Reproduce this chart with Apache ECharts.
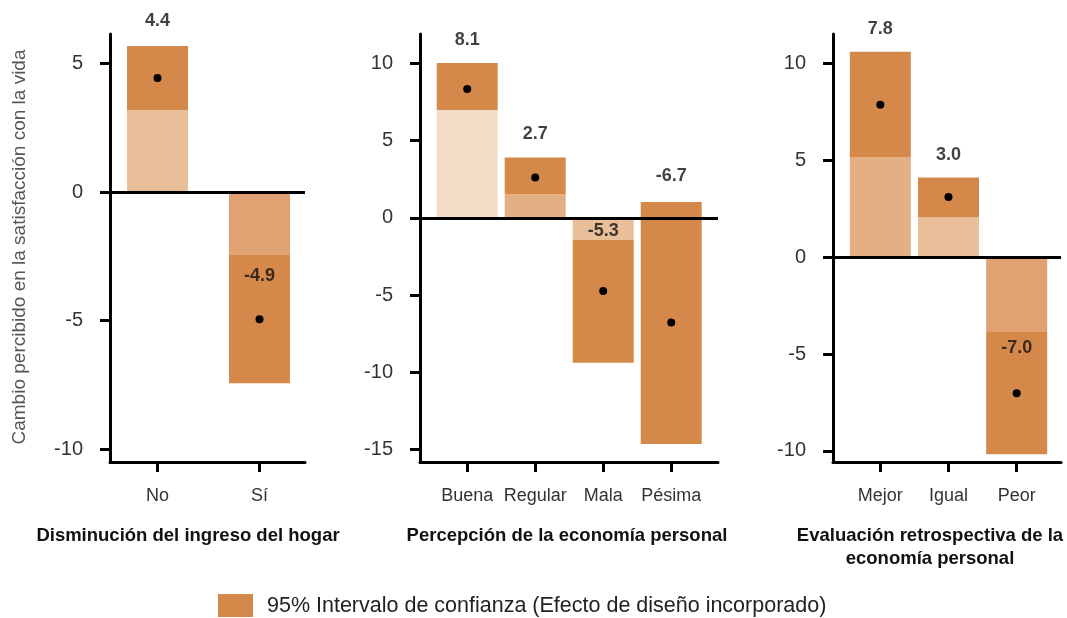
<!DOCTYPE html>
<html>
<head>
<meta charset="utf-8">
<script src="https://cdn.jsdelivr.net/npm/echarts@6/dist/echarts.min.js"></script>
<style>html,body{margin:0;padding:0;background:#fff}#c{width:1067px;height:618px}</style>
</head>
<body>
<div id="c"></div>
<script>
// ---- Data ----
const categories1 = ['No', 'Sí'];
const estimate1 = [4.43, -4.94];
const labelText1 = ['4.4', '-4.9'];
const labelY1 = [6.65, -3.26];
const ciLow1 = [3.19, -7.43];
const ciHigh1 = [5.67, -2.45];
const lightEnd1 = [3.19, -2.45];
const lightColor1 = ['#E8BF99', '#E0A272'];
const yTicks1 = [5, 0, -5, -10];

const categories2 = ['Buena', 'Regular', 'Mala', 'Pésima'];
const estimate2 = [8.34, 2.62, -4.73, -6.77];
const labelText2 = ['8.1', '2.7', '-5.3', '-6.7'];
const labelY2 = [11.51, 5.42, -0.84, 2.72];
const ciLow2 = [6.98, 1.53, -9.37, -14.64];
const ciHigh2 = [10.02, 3.91, -1.44, 1.02];
const lightEnd2 = [6.98, 1.53, -1.44, null];
const lightColor2 = ['#F2DCC8', '#E4AF83', '#E8BF99', null];
const yTicks2 = [10, 5, 0, -5, -10, -15];

const categories3 = ['Mejor', 'Igual', 'Peor'];
const estimate3 = [7.86, 3.10, -7.02];
const labelText3 = ['7.8', '3.0', '-7.0'];
const labelY3 = [11.77, 5.28, -4.70];
const ciLow3 = [5.16, 2.07, -10.17];
const ciHigh3 = [10.6, 4.11, -3.86];
const lightEnd3 = [5.16, 2.07, -3.86];
const lightColor3 = ['#E3AF83', '#E8BF99', '#E0A272'];
const yTicks3 = [10, 5, 0, -5, -10];

const panelTitles = [
  'Disminución del ingreso del hogar',
  'Percepción de la economía personal',
  'Evaluación retrospectiva de la\neconomía personal'
];
const yAxisTitle = 'Cambio percibido en la satisfacción con la vida';
const legendText = '95% Intervalo de confianza (Efecto de diseño incorporado)';

// ---- Styling / layout ----
const DARK = '#D4894A';
const FONT = '"Liberation Sans", Arial, sans-serif';
const BAR_W = 61;
const panels = [
  {cats: categories1, est: estimate1, lt: labelText1, ly: labelY1, lo: ciLow1, hi: ciHigh1, le: lightEnd1, lc: lightColor1, ticks: yTicks1,
   grid: {left: 110, top: 34, width: 195, height: 428}, xMin: -0.466, xMax: 1.446, yMin: -10.49, yMax: 6.14},
  {cats: categories2, est: estimate2, lt: labelText2, ly: labelY2, lo: ciLow2, hi: ciHigh2, le: lightEnd2, lc: lightColor2, ticks: yTicks2,
   grid: {left: 420, top: 34, width: 298, height: 428}, xMin: -0.694, xMax: 3.688, yMin: -15.8, yMax: 11.9},
  {cats: categories3, est: estimate3, lt: labelText3, ly: labelY3, lo: ciLow3, hi: ciHigh3, le: lightEnd3, lc: lightColor3, ticks: yTicks3,
   grid: {left: 833, top: 34, width: 228, height: 428}, xMin: -0.694, xMax: 2.65, yMin: -10.57, yMax: 11.51}
];

function renderBar(params, api) {
  const x = api.value(0), a = api.value(1), b = api.value(2);
  const p1 = api.coord([x, Math.max(a, b)]);
  const p2 = api.coord([x, Math.min(a, b)]);
  return {
    type: 'rect',
    shape: {x: p1[0] - BAR_W / 2, y: p1[1], width: BAR_W, height: p2[1] - p1[1]},
    style: {fill: api.visual('color')}
  };
}

const grids = [], xAxes = [], yAxes = [], series = [];
panels.forEach((p, i) => {
  grids.push(Object.assign({containLabel: false}, p.grid));
  const idx = p.cats.map((_, k) => k);
  xAxes.push({
    type: 'value', gridIndex: i, min: p.xMin, max: p.xMax,
    splitLine: {show: false},
    axisLine: {show: true, onZero: false, lineStyle: {color: '#000', width: 3}},
    axisTick: {show: true, customValues: idx, length: 10, lineStyle: {color: '#000', width: 3}},
    axisLabel: {show: true, customValues: idx, margin: 25, fontSize: 18, fontFamily: FONT, color: '#333',
      formatter: v => p.cats[Math.round(v)] || ''}
  });
  yAxes.push({
    type: 'value', gridIndex: i, min: p.yMin, max: p.yMax,
    splitLine: {show: false},
    axisLine: {show: true, onZero: false, lineStyle: {color: '#000', width: 3}},
    axisTick: {show: true, customValues: p.ticks, length: 10, lineStyle: {color: '#000', width: 3}},
    axisLabel: {show: true, customValues: p.ticks, margin: 27, fontSize: 20, fontFamily: FONT, color: '#333'}
  });
  const lightData = [];
  p.cats.forEach((_, k) => {
    if (p.le[k] !== null) lightData.push({value: [k, 0, p.le[k]], itemStyle: {color: p.lc[k]}});
  });
  series.push({
    type: 'custom', xAxisIndex: i, yAxisIndex: i, renderItem: renderBar, clip: false, z: 2,
    encode: {x: 0, y: [1, 2]}, data: lightData, silent: true
  });
  series.push({
    type: 'custom', xAxisIndex: i, yAxisIndex: i, renderItem: renderBar, clip: false, z: 3,
    encode: {x: 0, y: [1, 2]}, itemStyle: {color: DARK}, silent: true,
    data: p.cats.map((_, k) => [k, p.lo[k], p.hi[k]]),
    markLine: {silent: true, symbol: 'none', label: {show: false},
      lineStyle: {color: '#000', width: 3, type: 'solid'}, data: [{yAxis: 0}], z: 5}
  });
  series.push({
    type: 'scatter', xAxisIndex: i, yAxisIndex: i, z: 6, symbolSize: 8, clip: false,
    itemStyle: {color: '#000', opacity: 1}, silent: true,
    data: p.cats.map((_, k) => [k, p.est[k]])
  });
  series.push({
    type: 'scatter', xAxisIndex: i, yAxisIndex: i, z: 7, symbolSize: 0, clip: false, silent: true,
    label: {show: true, position: 'inside', fontSize: 18, fontWeight: 'bold', fontFamily: FONT, color: '#111',
      formatter: q => p.lt[q.dataIndex]},
    data: p.cats.map((_, k) => [k, p.ly[k]])
  });
});

const titleStyle = {fontSize: 18.5, fontWeight: 'bold', fontFamily: FONT, fill: '#111', align: 'center', verticalAlign: 'middle', lineHeight: 23};
const graphic = [
  {type: 'text', x: 188, y: 536, style: Object.assign({text: panelTitles[0]}, titleStyle)},
  {type: 'text', x: 567, y: 536, style: Object.assign({text: panelTitles[1]}, titleStyle)},
  {type: 'text', x: 930, y: 547, style: Object.assign({text: panelTitles[2]}, titleStyle)},
  {type: 'text', x: 20, y: 247, rotation: Math.PI / 2,
   style: {text: yAxisTitle, fontSize: 19, fontFamily: FONT, fill: '#555', align: 'center', verticalAlign: 'middle'}},
  {type: 'rect', shape: {x: 218, y: 594, width: 35, height: 23}, style: {fill: DARK}},
  {type: 'text', x: 267, y: 606, style: {text: legendText, fontSize: 21.5, fontFamily: FONT, fill: '#222', align: 'left', verticalAlign: 'middle'}}
];

const chart = echarts.init(document.getElementById('c'), null, {renderer: 'canvas'});
chart.setOption({
  animation: false,
  backgroundColor: '#fff',
  grid: grids, xAxis: xAxes, yAxis: yAxes, series: series, graphic: graphic
});
</script>
</body>
</html>
